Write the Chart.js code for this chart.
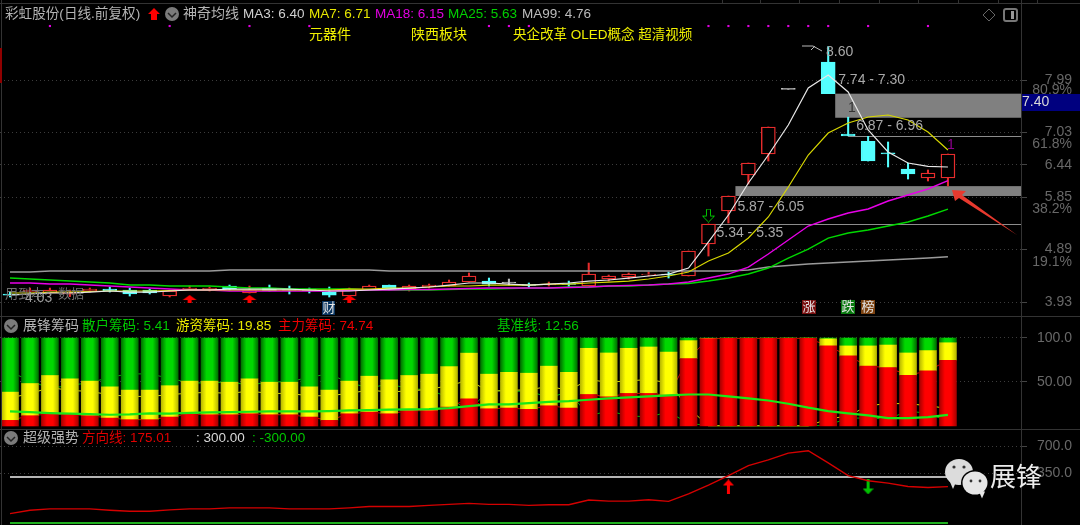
<!DOCTYPE html>
<html><head><meta charset="utf-8">
<style>html,body{margin:0;padding:0;background:#000;overflow:hidden}canvas{display:block}</style>
<script src="https://cdn.jsdelivr.net/npm/chart.js@4"></script>
</head><body><canvas id="c" width="1080" height="525"></canvas>
<script>
// ---------- candles ----------
const sessions = Array.from({length:48},(_, i)=>i);
const opens  = [4.078,4.114,4.096,4.078,4.133,4.169,4.151,4.151,4.041,4.151,4.151,4.224,4.096,4.187,4.151,4.169,4.114,4.041,4.151,4.242,4.169,4.206,4.224,4.297,4.315,4.279,4.242,4.242,4.26,4.224,4.352,4.388,4.425,4.443,4.407,4.992,5.595,6.253,6.637,7.82,null,8.319,7.0,6.87,6.66,6.363,6.198,6.198];
const closes = [4.059,4.151,4.151,4.114,4.169,4.133,4.078,4.096,4.133,4.187,4.187,4.169,4.151,4.133,4.142,4.133,4.059,4.169,4.224,4.169,4.224,4.242,4.297,4.407,4.26,4.279,4.233,4.26,4.251,4.443,4.407,4.443,4.443,4.425,4.864,5.357,5.869,6.473,7.131,7.82,null,7.74,6.97,6.509,6.64,6.272,6.29,6.637];
const highs  = [4.114,4.187,4.187,4.151,4.187,4.206,4.187,4.169,4.151,4.224,4.206,4.242,4.224,4.242,4.224,4.187,4.206,4.187,4.242,4.242,4.242,4.26,4.334,4.462,4.37,4.352,4.279,4.297,4.315,4.644,4.425,4.462,4.48,4.48,4.864,5.357,5.869,6.473,7.131,7.82,null,8.60,7.31,6.96,6.857,6.473,6.345,6.637];
const lows   = [4.023,4.059,4.078,4.03,4.114,4.114,4.041,4.078,4.023,4.151,4.133,4.151,4.096,4.133,4.078,4.096,4.023,4.041,4.151,4.151,4.133,4.187,4.224,4.297,4.224,4.242,4.187,4.224,4.206,4.224,4.315,4.352,4.407,4.37,4.407,4.772,5.376,6.089,6.509,7.82,null,7.74,6.97,6.509,6.40,6.18,6.144,6.052];
// ---------- moving averages ----------
const ma3  = [4.059,4.078,4.096,4.096,4.114,4.133,4.114,4.114,4.133,4.151,4.151,4.169,4.169,4.169,4.169,4.151,4.133,4.133,4.151,4.169,4.187,4.206,4.242,4.279,4.279,4.26,4.242,4.26,4.279,4.315,4.334,4.37,4.407,4.443,4.553,5.029,5.522,6.107,6.619,7.167,7.844,8.082,7.771,7.076,6.674,6.473,6.41,6.40];
const ma7  = [4.096,4.096,4.114,4.114,4.124,4.133,4.133,4.133,4.142,4.151,4.151,4.151,4.151,4.151,4.151,4.151,4.151,4.169,4.169,4.187,4.187,4.206,4.224,4.224,4.242,4.242,4.242,4.26,4.26,4.279,4.297,4.315,4.352,4.407,4.48,4.681,4.828,5.102,5.486,6.034,6.619,7.021,7.204,7.314,7.35,7.259,7.04,6.71];
const ma18 = [4.279,4.279,4.26,4.26,4.242,4.224,4.206,4.187,4.169,4.151,4.151,4.133,4.133,4.133,4.133,4.133,4.133,4.142,4.151,4.151,4.16,4.16,4.169,4.178,4.187,4.187,4.187,4.187,4.197,4.206,4.224,4.233,4.242,4.26,4.297,4.37,4.443,4.571,4.81,5.065,5.321,5.449,5.559,5.632,5.778,5.888,5.998,6.15];
const ma25 = [4.37,4.352,4.334,4.315,4.297,4.279,4.242,4.242,4.224,4.224,4.224,4.206,4.187,4.187,4.169,4.169,4.169,4.169,4.151,4.151,4.151,4.151,4.16,4.169,4.169,4.178,4.187,4.187,4.206,4.206,4.224,4.224,4.242,4.26,4.27,4.315,4.37,4.443,4.553,4.736,4.9,5.10,5.193,5.248,5.321,5.394,5.504,5.63];
const ma99 = [4.48,4.48,4.498,4.498,4.498,4.498,4.498,4.498,4.498,4.498,4.498,4.516,4.516,4.516,4.516,4.516,4.516,4.516,4.516,4.498,4.498,4.498,4.498,4.498,4.498,4.498,4.498,4.498,4.498,4.498,4.498,4.498,4.498,4.498,4.498,4.498,4.498,4.516,4.571,4.599,4.626,4.644,4.663,4.681,4.699,4.718,4.736,4.76];
// ---------- chip panel (percent) ----------
const mainChips   = [6.4,11.7,13.6,13.2,11.7,9,7.2,7.2,10.2,13.6,12.8,12.8,13.9,12.8,12.8,10.2,6.4,13.9,15.8,13.9,17.4,17.4,21.5,30.9,19.6,20.4,18.9,23,20.4,35.8,33.2,37,37,35,76.6,99.2,99.5,99.5,99.5,99.5,99.6,91,79.6,68,66.4,57.7,62.6,74.74];
const hotChips    = [32.1,36.6,43.8,40.4,39.3,35.5,33.6,33.6,35.6,37.4,38.2,37,39.7,37,37,34.3,34.4,37.1,40.8,38.6,40,41.5,46,51.9,39.3,40.6,41.1,45,40.6,52.5,49.8,51.3,52.8,49,20.4,0.3,0.3,0.3,0.3,0.3,0.2,8,11.4,23,25.6,25.3,23.1,19.85];
const retailChips = [61.5,51.7,42.6,46.4,49,55.5,59.2,59.2,54.2,49,49,50.2,46.4,50.2,50.2,55.5,59.2,49,43.4,47.5,42.6,41.1,32.5,17.2,41.1,39,40,32,39,11.7,17,11.7,10.2,16,3,0.5,0.2,0.2,0.2,0.2,0.2,1,9,9,8,17,14.3,5.41];
const baseLine    = [16.6,15.8,14.7,14,13.6,12.8,13.2,14.3,14,15,15.5,15.8,16.2,16.6,16.6,16.6,17,17.7,18,18.5,18.9,19.2,20.4,22.6,24.5,24.5,26,27.5,28.3,29.8,31.3,32.5,33.6,34.7,35.8,35.8,33.6,31.3,29,25.3,20.8,17,14.3,12,9,9,10,12.56];
// ---------- trend panel ----------
const direction = [-177,-133,-115,-115,-115,-133,-146,-146,-128,-115,-115,-102,-102,-102,-115,-115,-115,-102,-85,-85,-85,-70,-57,-44,-57,-57,-70,-62,-62,0,-14,-14,4,-18,79,194,317,449,524,612,643,484,317,251,220,176,163,175.01];
const upperLine = new Array(48).fill(300);
const lowerLine = new Array(48).fill(-300);
// ---------- tick labels and marks ----------
const priceTicks = [7.99,7.03,6.44,5.85,4.89,3.93];
const pctTicks = [{value:7.807,label:'80.9%'},{value:6.82,label:'61.8%'},{value:5.632,label:'38.2%'},{value:4.663,label:'19.1%'}];
const chipTicks = [{value:100,label:'100.0'},{value:50,label:'50.00'},{value:75,label:''}];
const trendTicks = [{value:700,label:'700.0'},{value:350,label:'350.0'},{value:525,label:''}];
const flagDays = [2,8,12,15,24,25,26,35,36,37,38,39,40,41,43,46];
const buyDays = [9,12,17];
const zones = [{from:41,low:7.30,high:7.74},{from:36,low:5.87,high:6.05}];
const levels = [{from:42,value:6.96},{from:35,value:5.35}];
const zoneLabels = [{day:41.5,value:7.98,text:'7.74 - 7.30'},{day:42.4,value:7.15,text:'6.87 - 6.96'},{day:36.45,value:5.66,text:'5.87 - 6.05'},{day:35.4,value:5.19,text:'5.34 - 5.35'}];

// ---------- helpers ----------
const pick = (days,v)=>sessions.map(i=>days.includes(i)?v:null);
function glyph(w,h,draw){const c=document.createElement('canvas');c.width=w;c.height=h;draw(c.getContext('2d'));return c;}
function poly(g,pts){g.beginPath();pts.forEach((p,i)=>i?g.lineTo(p[0],p[1]):g.moveTo(p[0],p[1]));g.closePath();}
const redTri = glyph(18,8,g=>{g.fillStyle='#ff0000';poly(g,[[9,0],[16,5],[11,5],[11,8],[7,8],[7,5],[2,5]]);g.fill();});
const redArrow = glyph(11,15,g=>{g.fillStyle='#ff0000';poly(g,[[5.5,0],[11,6],[7,6],[7,15],[4,15],[4,6],[0,6]]);g.fill();});
const greenArrow = glyph(11,15,g=>{g.fillStyle='#00c000';poly(g,[[4,0],[7,0],[7,9],[11,9],[5.5,15],[0,9],[4,9]]);g.fill();});
const hollowArrow = glyph(13,14,g=>{g.strokeStyle='#00c000';g.lineWidth=1;poly(g,[[4.5,.5],[8.5,.5],[8.5,7.5],[12.5,7.5],[6.5,13.5],[.5,7.5],[4.5,7.5]]);g.stroke();});

const candleColor = i=>{const o=opens[i],c=closes[i];return o===c?'#bdbdbd':c>o?'#e62c2c':'#54ffff';};
const bodyFill = i=>{const o=opens[i],c=closes[i];return c>o?'#000000':candleColor(i);};

function shade(ctx,edge,mid){
  const ch=ctx.chart, s=ch.scales.x;
  if(!s||s.width<=0||typeof ctx.dataIndex!=='number') return mid;
  const x=s.getPixelForValue(ctx.dataIndex);
  if(!Number.isFinite(x)) return mid;
  const g=ch.ctx.createLinearGradient(x-8.5,0,x+8.5,0);
  g.addColorStop(0,edge);g.addColorStop(.32,mid);g.addColorStop(.68,mid);g.addColorStop(1,edge);return g;
}
const lineDs=(label,data,color,yAxisID,extra)=>Object.assign({type:'line',label,data,yAxisID,stack:label,borderColor:color,borderWidth:1.2,pointRadius:0,tension:0,spanGaps:false,order:0},extra||{});
const chipBar=(label,data,edge,mid)=>({type:'bar',label,data,yAxisID:'yChip',stack:'chips',grouped:false,barThickness:17,order:4,borderWidth:0,backgroundColor:c=>shade(c,edge,mid)});
const marks=(label,data,style,yAxisID,extra)=>Object.assign({type:'line',label,data,yAxisID,showLine:false,pointStyle:style,pointRadius:6,pointBorderWidth:0,order:0},extra||{});

const labelOf=list=>v=>{const t=list.find(o=>o.value===v);return t?t.label:v.toFixed(2);};
const FONT='"Liberation Sans","Noto Sans CJK SC",sans-serif';
const tickFont={family:FONT,size:14};
function yScale(weight,order,min,max,values,fmt,gridOn,extra){
  return Object.assign({type:'linear',position:'right',stack:'panels',stackWeight:weight,weight:order,min,max,
    afterBuildTicks:s=>{s.ticks=values.map(v=>({value:v}));},
    afterFit:s=>{s.width=51;s.paddingTop=0;s.paddingBottom=0;},
    border:{display:true,color:'#3a3a3a',dash:[1,3]},
    grid:{color:c=>gridOn(c.tick&&c.tick.value)?'#3c3c3c':'rgba(0,0,0,0)',tickColor:c=>gridOn(c.tick&&c.tick.value)?'#444':'rgba(0,0,0,0)',tickLength:6,lineWidth:1},
    ticks:{color:'#686868',font:tickFont,autoSkip:false,crossAlign:'far',padding:2,maxRotation:0,callback:fmt}},extra||{});
}

const overlay={id:'overlay',
 beforeDatasetsDraw(ch){
  const g=ch.ctx,x=ch.scales.x,y=ch.scales.y,R=ch.chartArea.right;
  g.save();
  g.fillStyle='#808080';
  zones.forEach(z=>{const l=x.getPixelForValue(z.from)+7;const t=y.getPixelForValue(z.high),b=y.getPixelForValue(z.low);g.fillRect(l,t,R-l,b-t);});
  g.strokeStyle='#8c8c8c';g.lineWidth=1;
  levels.forEach(v=>{const p=Math.round(y.getPixelForValue(v.value))+.5;g.beginPath();g.moveTo(x.getPixelForValue(v.from),p);g.lineTo(R,p);g.stroke();});
  g.restore();
 },
 afterDraw(ch){
  const g=ch.ctx,x=ch.scales.x,y=ch.scales.y;
  g.save();
  // frame
  g.strokeStyle='#333';g.lineWidth=1;
  [3.5,ch.scales.yChip.top+.5,ch.scales.yTrend.top+.5].forEach(p=>{g.beginPath();g.moveTo(0,p);g.lineTo(1080,p);g.stroke();});
  g.beginPath();g.moveTo(1.5,0);g.lineTo(1.5,525);g.moveTo(1021.5,0);g.lineTo(1021.5,525);g.stroke();
  [722,760,799,839,879,918,958,998,1037].forEach(p=>{g.beginPath();g.moveTo(p+.5,0);g.lineTo(p+.5,3);g.stroke();});
  g.fillStyle='#900000';g.fillRect(0,48,2,35);
  g.textBaseline='middle';g.textAlign='left';
  const T=(s,px,py,c,size)=>{g.font=(size||13.5)+'px '+FONT;g.fillStyle=c;g.fillText(s,px,py);};
  const chev=(cx,cy)=>{g.fillStyle='#7b7b7b';g.beginPath();g.arc(cx,cy,7,0,7);g.fill();g.strokeStyle='#222';g.lineWidth=1.5;g.beginPath();g.moveTo(cx-4,cy-1);g.lineTo(cx,cy+3);g.lineTo(cx+4,cy-1);g.stroke();};
  const f=a=>a[a.length-1].toFixed(2);
  // title rows
  T('彩虹股份(日线.前复权)',5,14,'#b4b4b4',13.6);
  g.fillStyle='#ff0000';poly(g,[[154,8],[160,14],[157,14],[157,20],[151,20],[151,14],[148,14]]);g.fill();
  chev(172,14);
  T('神奇均线',183,14,'#b4b4b4',14);
  T('MA3: '+f(ma3),243,14,'#d0d0d0');
  T('MA7: '+f(ma7),309,14,'#e8e800');
  T('MA18: '+f(ma18),375,14,'#e000e0');
  T('MA25: '+f(ma25),448,14,'#00d000');
  T('MA99: '+f(ma99),522,14,'#bcbcbc');
  T('元器件',309,35,'#f0f000',14);
  T('陕西板块',411,35,'#f0f000',14);
  T('央企改革 OLED概念 超清视频',513,35,'#f0f000',13.5);
  chev(11,326);
  T('展锋筹码',23,326,'#b4b4b4',14);
  T('散户筹码: '+f(retailChips),82,326,'#00c800');
  T('游资筹码: '+f(hotChips),176,326,'#e8e800');
  T('主力筹码: '+f(mainChips),278,326,'#f00000');
  T('基准线: '+f(baseLine),497,326,'#00c800');
  chev(11,438);
  T('超级强势',23,438,'#b4b4b4',14);
  T('方向线: '+f(direction),82,438,'#e00000');
  T(': '+f(upperLine),196,438,'#d8d8d8');
  T(': '+f(lowerLine),252,438,'#00c800');
  // top-right icons
  g.strokeStyle='#666';g.lineWidth=1;poly(g,[[989,9],[995,15],[989,21],[983,15]]);g.stroke();
  g.strokeStyle='#777';g.lineWidth=2;g.beginPath();g.roundRect(1004,9,13,12,2);g.stroke();g.fillStyle='#999';g.fillRect(1011,11,3,8);
  // price notes
  const NOTE='#a8a8a8';
  T('8.60',826,52,NOTE,14);
  g.strokeStyle='#b8b8b8';g.lineWidth=1;g.beginPath();g.moveTo(802,46);g.lineTo(813,46);g.lineTo(822,51);g.moveTo(811,50);g.lineTo(815,46);g.stroke();
  zoneLabels.forEach(l=>T(l.text,x.getPixelForValue(l.day),y.getPixelForValue(l.value),NOTE,14));
  T('1',848,108,'#333',14);
  T('1',947,145,'#900090',14);
  T('用到本',5,294,'#707070',13);
  T('4.03',25,298,'#9a9a9a',14);
  T('数据',58,294,'#707070',13);
  // tag boxes
  const box=(s,px,py,w,h,c)=>{g.fillStyle=c;g.fillRect(px,py,w,h);g.font='13px '+FONT;g.fillStyle='#e4e4e4';g.fillText(s,px+.5,py+h/2+.5);};
  box('财',322,301,13,14,'#0a3560');
  box('涨',802,300,14,14,'#7a1010');
  box('跌',841,300,14,14,'#0a7a10');
  box('榜',861,300,14,14,'#7c4210');
  // price tag
  g.fillStyle='#00007f';g.fillRect(1022,94,58,17);
  T('7.40',1022,102.5,'#d8d8d8',14);
  // hand-drawn arrow
  g.fillStyle='#e8392e';poly(g,[[952,190],[966,191],[962,195],[1017,235],[959,198],[955,201]]);g.fill();
  // watermark
  const bub=(cx,cy,rx,ry,tx,c)=>{g.fillStyle=c;g.beginPath();g.ellipse(cx,cy,rx,ry,0,0,7);g.fill();g.beginPath();g.moveTo(cx+tx-3,cy+ry-3);g.lineTo(cx+tx+3,cy+ry-3);g.lineTo(cx+tx,cy+ry+4);g.fill();};
  bub(959,472,14,13,-6,'#dcdcdc');
  g.fillStyle='#333';g.beginPath();g.arc(954,467,1.6,0,7);g.arc(964,467,1.6,0,7);g.fill();
  g.fillStyle='#000';g.beginPath();g.ellipse(975,483,14,13,0,0,7);g.fill();
  bub(975,483,12.5,11.5,7,'#e6e6e6');
  g.fillStyle='#333';g.beginPath();g.arc(971,481,1.4,0,7);g.fill();g.beginPath();g.arc(980,481,1.4,0,7);g.fill();
  T('展锋',990,479,'#ececec',26);
  g.restore();
 }};

new Chart(document.getElementById('c'),{
 data:{labels:sessions,datasets:[
  lineDs('MA3',ma3,'#e8e8e8','y',{borderWidth:1.2}),
  lineDs('MA7',ma7,'#d8d800','y'),
  lineDs('MA18',ma18,'#e800e8','y',{borderWidth:1.4}),
  lineDs('MA25',ma25,'#00d800','y',{borderWidth:1.4}),
  lineDs('MA99',ma99,'#9a9a9a','y',{borderWidth:1.6}),
  marks('flags',pick(flagDays,8.977),'rect','y',{pointRadius:1.5,pointBackgroundColor:'#e000e0'}),
  marks('buy',pick(buyDays,3.986),redTri,'y'),
  marks('signal',pick([35],5.513),hollowArrow,'y'),
  {type:'bar',label:'body',data:sessions.map(i=>opens[i]===null?null:[opens[i],closes[i]]),yAxisID:'y',grouped:false,barThickness:14,minBarLength:1,order:1,
   backgroundColor:sessions.map(bodyFill),borderColor:sessions.map(candleColor),borderWidth:1.4,borderSkipped:false},
  {type:'bar',label:'wick',data:sessions.map(i=>lows[i]===null?null:[lows[i],highs[i]]),yAxisID:'y',grouped:false,barThickness:1.4,order:2,
   backgroundColor:sessions.map(candleColor),borderWidth:0},

  lineDs('baseline',baseLine,'#18e818','yChip',{borderWidth:2.2}),
  chipBar('main',mainChips,'#a80000','#ff0000'),
  chipBar('hot',hotChips,'#b8b800','#ffff00'),
  chipBar('retail',retailChips,'#007000','#00d800'),
  lineDs('mainThin',mainChips,'#d00000','yChip',{borderWidth:1,order:6}),
  lineDs('hotThin',hotChips,'#d8d800','yChip',{borderWidth:1,order:6}),
  lineDs('retailThin',retailChips,'#00b000','yChip',{borderWidth:1,order:6}),

  lineDs('direction',direction,'#d40000','yTrend',{borderWidth:1.4}),
  lineDs('upper',upperLine,'#f0f0f0','yTrend',{borderWidth:1.4}),
  lineDs('lower',lowerLine,'#1fb01f','yTrend',{borderWidth:1.8}),
  marks('up',pick([36],170),redArrow,'yTrend'),
  marks('down',pick([43],170),greenArrow,'yTrend')
 ]},
 options:{responsive:false,animation:false,devicePixelRatio:1,
  layout:{autoPadding:false,padding:{left:0,top:0,bottom:0,right:8}},
  plugins:{legend:{display:false},tooltip:{enabled:false}},
  scales:{
   x:{type:'linear',display:false,offset:false,min:-0.5015,max:50.661,grid:{display:false}},
   y:yScale(316,1,3.676,9.4525,[...priceTicks,...pctTicks.map(t=>t.value)],labelOf(pctTicks),v=>priceTicks.includes(v)),
   yChip:yScale(113,2,-3.41,125,chipTicks.map(t=>t.value),labelOf(chipTicks),v=>v===50||v===100,{stacked:true}),
   yTrend:yScale(96,3,-325.8,925.8,trendTicks.map(t=>t.value),labelOf(trendTicks),v=>v===700||v===350)
  }},
 plugins:[overlay]
});
</script></body></html>
